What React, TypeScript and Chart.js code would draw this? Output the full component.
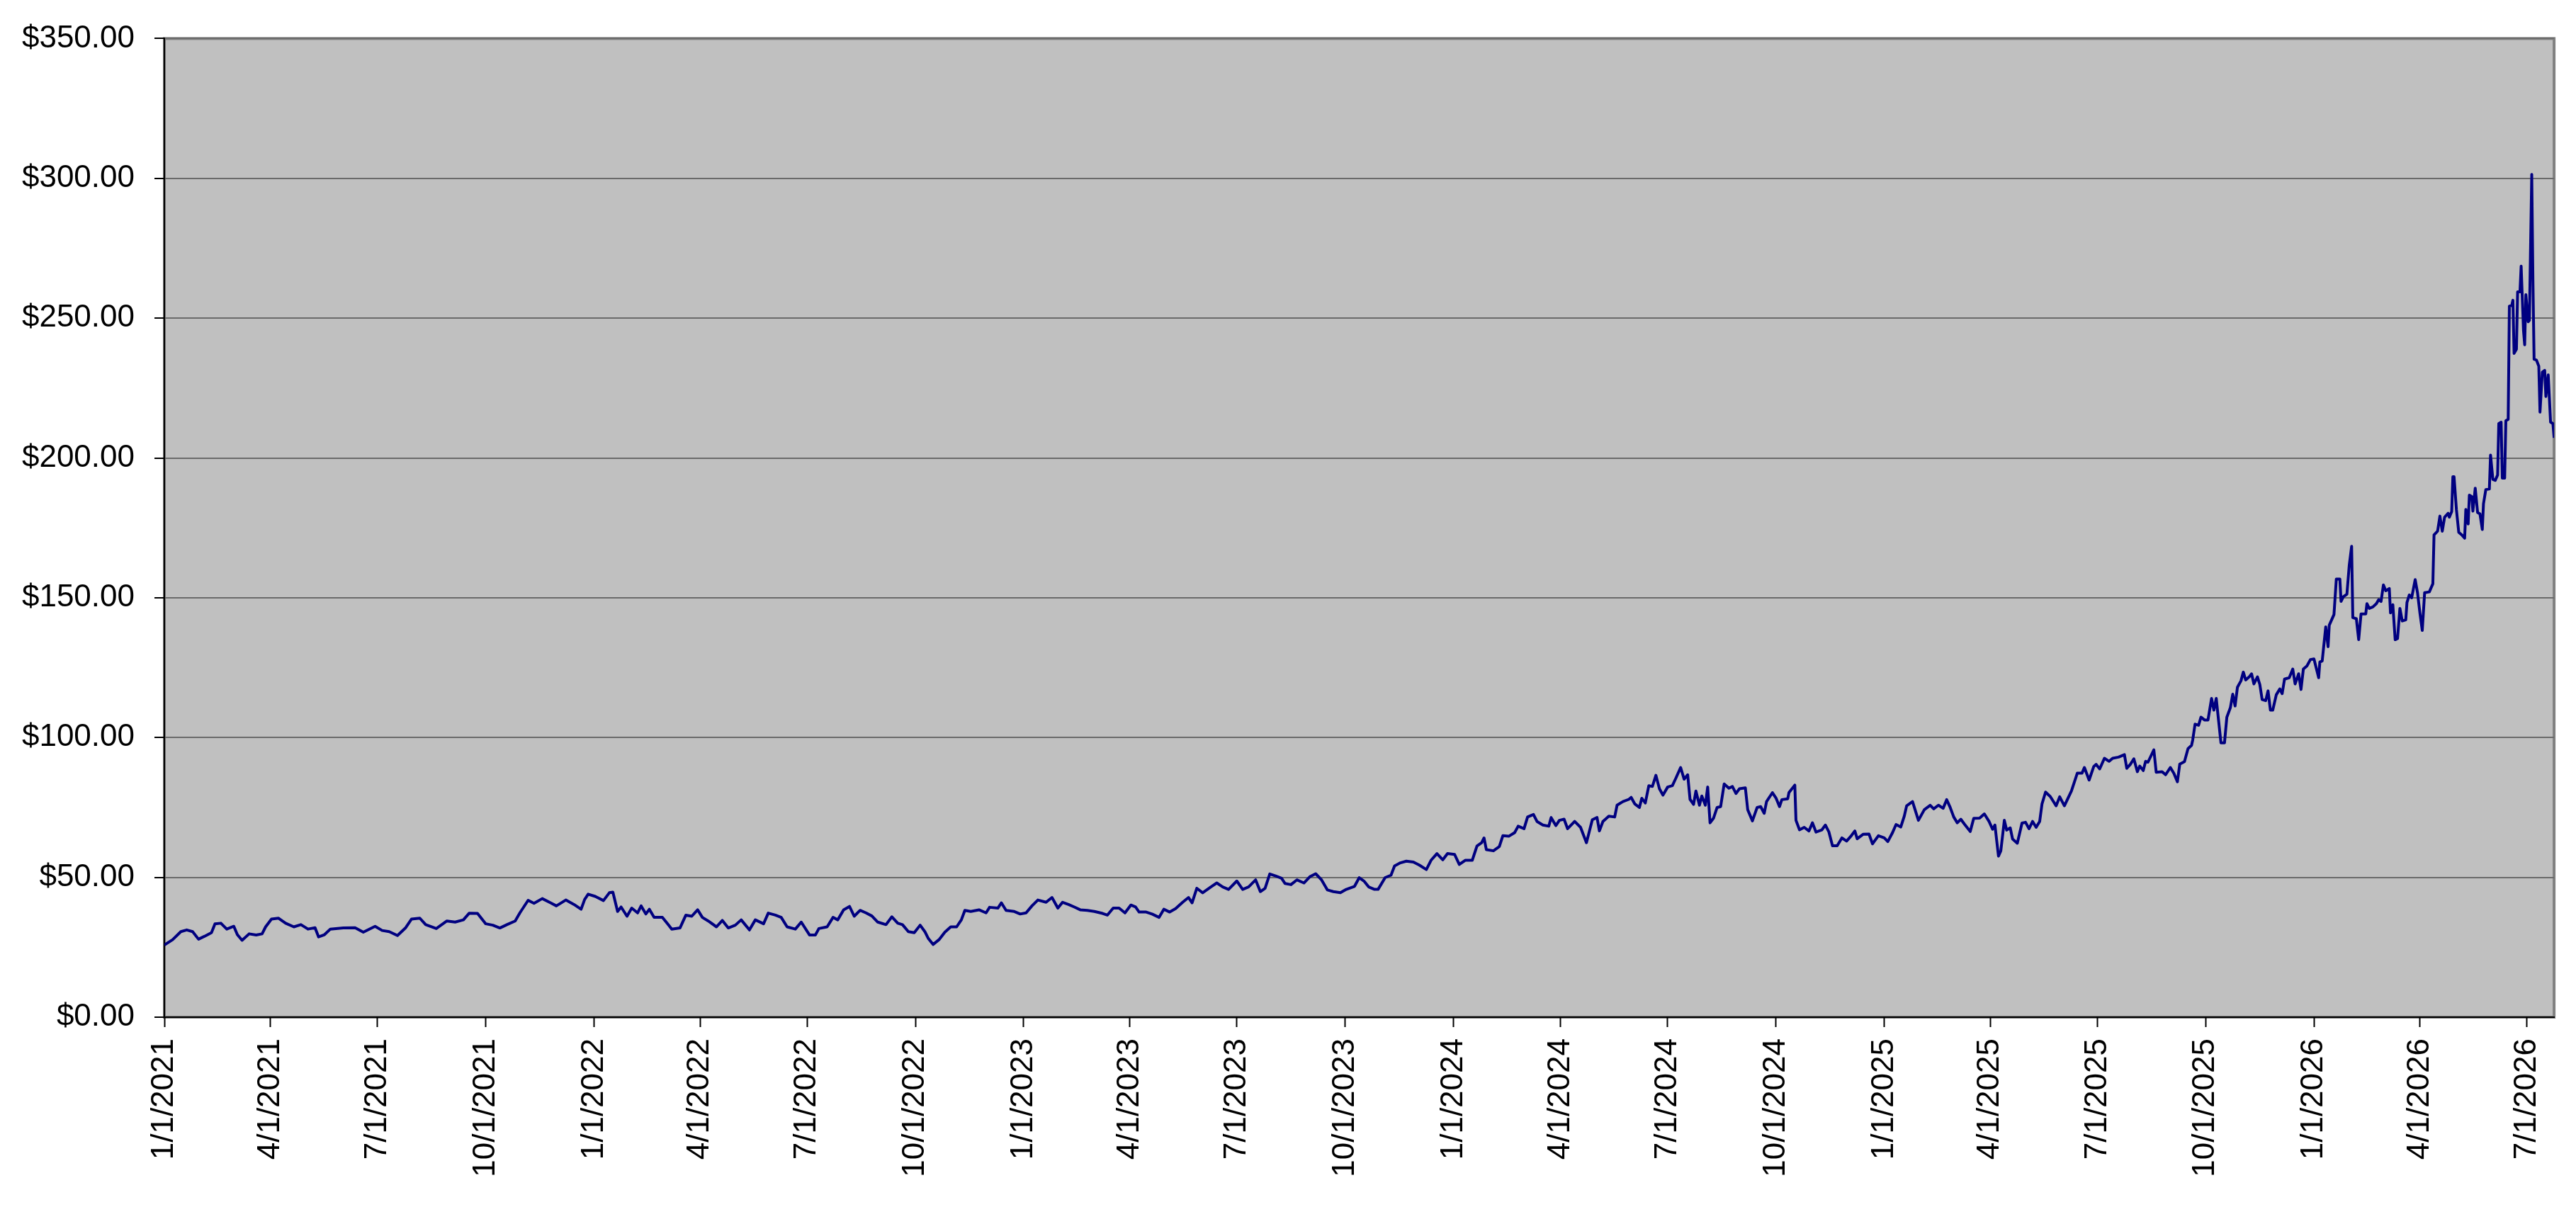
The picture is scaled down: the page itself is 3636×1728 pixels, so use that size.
import { useEffect, useRef } from "react";
import { Chart, registerables } from "chart.js";

Chart.register(...registerables);

// quarter tick labels on the date axis
const tickLabels = [
  "1/1/2021", "4/1/2021", "7/1/2021", "10/1/2021",
  "1/1/2022", "4/1/2022", "7/1/2022", "10/1/2022",
  "1/1/2023", "4/1/2023", "7/1/2023", "10/1/2023",
  "1/1/2024", "4/1/2024", "7/1/2024", "10/1/2024",
  "1/1/2025", "4/1/2025", "7/1/2025", "10/1/2025",
  "1/1/2026", "4/1/2026", "7/1/2026",
];

// days since 1/1/2021
const days = [
  0, 7, 14, 19, 24, 29, 34, 40, 43, 48,
  53, 59, 62, 66, 72, 78, 83, 86, 91, 97,
  103, 110, 116, 122, 128, 131, 136, 141, 152, 162,
  169, 179, 185, 191, 198, 205, 210, 217, 222, 231,
  240, 247, 254, 259, 266, 273, 279, 285, 291, 298,
  302, 309, 314, 321, 328, 333, 341, 348, 354, 357,
  360, 366, 373, 378, 381, 385, 388, 393, 397, 402,
  405, 409, 412, 416, 423, 428, 431, 438, 443, 448,
  453, 457, 462, 469, 474, 479, 485, 490, 497, 502,
  509, 513, 519, 524, 529, 536, 541, 548, 553, 556,
  563, 568, 572, 577, 582, 586, 591, 596, 601, 606,
  613, 618, 623, 627, 632, 637, 642, 646, 649, 653,
  658, 663, 668, 673, 677, 680, 685, 692, 698, 701,
  708, 711, 715, 722, 727, 732, 737, 742, 749, 754,
  759, 763, 768, 773, 778, 784, 790, 797, 801, 806,
  811, 816, 821, 825, 828, 834, 839, 845, 849, 854,
  859, 865, 870, 873, 877, 882, 889, 894, 899, 904,
  911, 916, 921, 927, 931, 935, 939, 944, 949, 952,
  957, 962, 968, 973, 978, 983, 988, 993, 999, 1004,
  1011, 1015, 1019, 1023, 1028, 1031, 1037, 1042, 1045, 1050,
  1055, 1061, 1066, 1072, 1076, 1081, 1086, 1090, 1096, 1100,
  1105, 1111, 1115, 1119, 1121, 1123, 1129, 1134, 1137, 1142,
  1147, 1150, 1155, 1158, 1163, 1166, 1171, 1176, 1178, 1182,
  1185, 1189, 1192, 1198, 1203, 1208, 1213, 1217, 1219, 1222,
  1227, 1232, 1234, 1239, 1244, 1246, 1249, 1253, 1255, 1258,
  1261, 1264, 1267, 1270, 1273, 1277, 1281, 1284, 1288, 1291,
  1294, 1296, 1299, 1301, 1304, 1306, 1309, 1311, 1313, 1316,
  1319, 1322, 1325, 1329, 1332, 1335, 1338, 1343, 1345, 1349,
  1353, 1356, 1359, 1361, 1366, 1369, 1372, 1374, 1379, 1380,
  1385, 1386, 1389, 1393, 1397, 1400, 1403, 1408, 1411, 1414,
  1417, 1421, 1425, 1429, 1433, 1436, 1438, 1443, 1448, 1451,
  1456, 1461, 1464, 1468, 1471, 1475, 1478, 1480, 1485, 1490,
  1495, 1500, 1503, 1507, 1511, 1514, 1517, 1520, 1523, 1526,
  1529, 1534, 1537, 1542, 1546, 1550, 1553, 1555, 1558, 1560,
  1563, 1565, 1568, 1570, 1574, 1578, 1581, 1584, 1587, 1590,
  1593, 1595, 1598, 1602, 1607, 1610, 1614, 1620, 1625, 1629,
  1631, 1635, 1639, 1641, 1644, 1648, 1652, 1655, 1660, 1665,
  1667, 1670, 1673, 1676, 1678, 1681, 1683, 1685, 1690, 1692,
  1697, 1700, 1704, 1707, 1710, 1712, 1716, 1719, 1722, 1723,
  1725, 1728, 1730, 1733, 1736, 1739, 1741, 1743, 1745, 1747,
  1750, 1752, 1755, 1757, 1759, 1761, 1764, 1766, 1768, 1771,
  1773, 1775, 1778, 1780, 1782, 1785, 1787, 1789, 1791, 1794,
  1797, 1799, 1801, 1805, 1808, 1810, 1813, 1815, 1817, 1820,
  1823, 1826, 1830, 1831, 1833, 1836, 1838, 1839, 1843, 1845,
  1848, 1849, 1851, 1854, 1856, 1858, 1859, 1862, 1864, 1866,
  1870, 1871, 1873, 1876, 1879, 1881, 1883, 1885, 1887, 1890,
  1891, 1893, 1895, 1897, 1899, 1901, 1904, 1905, 1907, 1909,
  1912, 1914, 1916, 1918, 1920, 1924, 1927, 1928, 1931, 1933,
  1935, 1937, 1940, 1941, 1943, 1944, 1945, 1947, 1949, 1952,
  1954, 1955, 1957, 1958, 1960, 1961, 1963, 1965, 1967, 1969,
  1970, 1972, 1975, 1976, 1978, 1980, 1982, 1983, 1985, 1986,
  1988, 1989, 1991, 1992, 1994, 1995, 1996, 1998, 1999, 2001,
  2002, 2004, 2005, 2006, 2008, 2009, 2011, 2012, 2013, 2015,
  2017, 2018, 2020, 2022, 2023, 2025, 2027, 2029, 2030,
];

const prices = [
  25.8, 27.7, 30.6, 31.2, 30.6, 27.9, 28.9, 30.2, 33.4, 33.6,
  31.5, 32.5, 29.5, 27.5, 29.8, 29.4, 29.8, 32.3, 35.1, 35.4,
  33.6, 32.3, 33.1, 31.5, 32.0, 28.7, 29.5, 31.5, 31.9, 32.0,
  30.4, 32.5, 31.0, 30.6, 29.2, 32.0, 35.1, 35.4, 33.1, 31.7,
  34.4, 34.0, 34.8, 37.2, 37.1, 33.4, 32.9, 31.9, 33.1, 34.4,
  37.3, 41.8, 40.7, 42.4, 40.9, 39.8, 41.9, 40.3, 38.6, 42.1,
  44.0, 43.2, 41.7, 44.5, 44.7, 37.8, 39.4, 36.1, 39.0, 37.3,
  39.8, 36.9, 38.6, 35.7, 35.7, 33.1, 31.5, 31.9, 36.5, 36.1,
  38.4, 35.7, 34.4, 32.3, 34.6, 31.9, 32.9, 34.8, 31.2, 34.8,
  33.4, 37.2, 36.5, 35.7, 32.3, 31.5, 34.0, 29.4, 29.4, 31.7,
  32.3, 35.7, 34.8, 38.4, 39.6, 36.1, 38.2, 37.3, 36.2, 34.0,
  33.1, 35.9, 33.6, 33.1, 30.6, 30.2, 32.9, 30.6, 28.1, 26.0,
  27.7, 30.4, 32.3, 32.3, 34.8, 38.2, 37.8, 38.4, 37.3, 39.3,
  39.0, 40.9, 38.2, 37.8, 36.9, 37.3, 39.8, 41.9, 41.1, 42.8,
  39.0, 41.1, 40.3, 39.4, 38.4, 38.2, 37.8, 37.1, 36.5, 39.0,
  39.0, 37.3, 40.1, 39.4, 37.6, 37.6, 36.9, 35.7, 38.6, 37.6,
  38.8, 41.1, 42.8, 40.9, 46.1, 44.5, 46.6, 48.0, 46.6, 45.7,
  48.7, 45.7, 46.6, 49.1, 44.9, 46.1, 51.2, 50.5, 49.7, 47.8,
  47.4, 49.1, 48.0, 50.2, 51.3, 49.1, 45.5, 44.9, 44.5, 45.7,
  46.8, 49.9, 48.7, 46.6, 45.7, 45.7, 49.9, 50.8, 54.1, 55.2,
  55.8, 55.5, 54.4, 52.8, 56.1, 58.5, 56.3, 58.5, 58.2, 54.6,
  56.1, 56.1, 61.2, 62.4, 64.1, 59.9, 59.5, 61.0, 64.9, 64.7,
  66.0, 68.3, 67.4, 71.6, 72.5, 70.0, 68.7, 68.3, 71.4, 68.5,
  70.4, 70.8, 67.4, 70.0, 67.9, 62.4, 70.6, 71.4, 66.6, 70.0,
  71.9, 71.6, 75.8, 77.1, 77.9, 78.6, 76.3, 75.0, 78.3, 76.6,
  82.8, 82.5, 86.5, 81.7, 79.4, 82.3, 82.8, 85.5, 89.3, 85.1,
  86.7, 77.9, 76.1, 80.9, 75.8, 79.1, 75.8, 82.3, 69.5, 71.2,
  75.0, 75.3, 83.4, 81.9, 82.5, 80.0, 81.7, 82.0, 74.2, 70.2,
  75.0, 75.3, 72.9, 77.1, 80.3, 78.4, 75.3, 77.8, 78.1, 80.3,
  83.0, 70.4, 67.0, 67.9, 66.6, 69.5, 66.2, 67.0, 68.7, 66.2,
  61.3, 61.3, 64.1, 63.0, 64.9, 66.6, 63.8, 65.4, 65.5, 62.0,
  64.9, 64.1, 62.8, 66.0, 68.9, 68.0, 71.9, 75.6, 77.1, 70.4,
  74.2, 75.8, 74.5, 75.8, 74.7, 77.8, 75.0, 71.6, 69.5, 70.8,
  69.1, 66.4, 71.1, 71.2, 72.7, 70.0, 67.2, 68.7, 57.6, 59.5,
  70.4, 66.9, 67.7, 63.7, 62.2, 69.4, 69.7, 67.4, 70.0, 67.9,
  70.0, 76.3, 80.5, 78.9, 75.6, 78.8, 75.6, 80.9, 87.3, 87.3,
  89.3, 84.8, 89.7, 90.4, 88.8, 92.6, 91.5, 92.6, 93.0, 93.9,
  89.0, 90.4, 92.4, 87.8, 89.8, 88.2, 91.5, 91.2, 95.6, 87.6,
  87.8, 86.7, 89.3, 87.2, 84.2, 90.5, 91.4, 96.0, 97.2, 99.1,
  104.8, 104.4, 107.3, 106.3, 106.3, 114.0, 109.8, 114.0, 106.0, 98.1,
  98.1, 107.3, 110.7, 115.5, 111.3, 118.0, 120.3, 123.4, 120.6, 121.7,
  122.8, 119.2, 121.7, 119.0, 113.6, 113.2, 116.7, 109.8, 109.8, 115.3,
  117.4, 115.7, 120.9, 121.4, 124.5, 119.2, 122.8, 117.2, 124.5, 125.6,
  127.9, 128.1, 121.4, 127.0, 127.4, 139.6, 132.5, 140.2, 144.0, 156.7,
  156.7, 148.7, 150.4, 151.3, 161.7, 168.4, 142.9, 142.5, 135.0, 144.2,
  144.2, 147.9, 146.2, 146.7, 147.9, 149.3, 148.7, 154.6, 152.5, 153.3,
  144.6, 147.5, 135.0, 135.4, 146.2, 141.7, 142.1, 148.3, 151.0, 150.0,
  156.5, 151.7, 144.6, 138.3, 151.8, 152.1, 155.0, 172.5, 173.8, 179.2,
  173.8, 178.8, 180.2, 178.8, 180.8, 193.3, 193.3, 181.6, 173.4, 172.3,
  171.3, 181.6, 176.4, 186.7, 186.2, 181.0, 189.2, 180.5, 180.0, 174.4,
  183.6, 188.7, 188.9, 201.0, 192.3, 192.0, 193.9, 212.3, 212.8, 192.8,
  192.8, 213.3, 213.8, 254.3, 254.5, 256.4, 237.4, 238.9, 259.4, 259.4,
  268.6, 245.6, 240.5, 258.4, 248.7, 249.2, 301.4, 263.5, 235.3, 235.0,
  232.8, 216.4, 230.7, 231.3, 222.0, 229.7, 212.8, 212.3, 207.2,
];

const START = Date.UTC(2021, 0, 1);
const toDay = (label: string) => {
  const [m, d, y] = label.split("/").map(Number);
  return Math.round((Date.UTC(y, m - 1, d) - START) / 86400000);
};
const tickDays = tickLabels.map(toDay);

const FONT = "'Liberation Sans', Arial, sans-serif";

const plotBackground = {
  id: "plotBackground",
  beforeDraw(chart: Chart) {
    const { ctx, chartArea: a } = chart;
    ctx.save();
    ctx.fillStyle = "#c0c0c0";
    ctx.fillRect(a.left, a.top, a.right - a.left, a.bottom - a.top);
    ctx.strokeStyle = "#808080";
    ctx.lineWidth = 4;
    ctx.strokeRect(a.left, a.top, a.right - a.left, a.bottom - a.top);
    ctx.restore();
  },
};

export default function App() {
  const canvasRef = useRef<HTMLCanvasElement>(null);
  const chartRef = useRef<Chart | null>(null);

  useEffect(() => {
    if (!canvasRef.current) return;
    if (chartRef.current) chartRef.current.destroy();

    const n = Math.min(days.length, prices.length);
    const points = [];
    for (let i = 0; i < n; i++) points.push({ x: days[i], y: prices[i] });

    chartRef.current = new Chart(canvasRef.current, {
      type: "line",
      data: {
        datasets: [
          {
            data: points,
            borderColor: "#000080",
            borderWidth: 4,
            pointRadius: 0,
            tension: 0,
            borderJoinStyle: "round",
            fill: false,
          },
        ],
      },
      options: {
        animation: false,
        responsive: true,
        maintainAspectRatio: false,
        layout: { padding: { top: 44, right: 28, left: 0, bottom: 0 }, autoPadding: false },
        plugins: { legend: { display: false }, tooltip: { enabled: false } },
        scales: {
          x: {
            type: "linear",
            min: 0,
            max: days[n - 1],
            afterBuildTicks: (scale: any) => {
              scale.ticks = tickDays.map((v) => ({ value: v }));
            },
            afterFit: (scale: any) => {
              scale.height = 292;
            },
            grid: {
              drawOnChartArea: false,
              drawTicks: true,
              tickLength: 14,
              tickColor: "#000",
              tickWidth: 2,
            },
            border: { color: "#000", width: 2 },
            ticks: {
              autoSkip: false,
              minRotation: 90,
              maxRotation: 90,
              padding: 16,
              color: "#000",
              font: { family: FONT, size: 44 },
              callback: (v: any) => tickLabels[tickDays.indexOf(Number(v))] ?? "",
            },
          },
          y: {
            min: 0,
            max: 350,
            afterFit: (scale: any) => {
              scale.width = 232;
            },
            grid: {
              color: "#6a6a6a",
              lineWidth: 2,
              tickLength: 14,
              tickColor: "#000",
              tickWidth: 2,
            },
            border: { color: "#000", width: 2 },
            ticks: {
              stepSize: 50,
              padding: 28,
              color: "#000",
              font: { family: FONT, size: 44 },
              callback: (v: any) => "$" + Number(v).toFixed(2),
            },
          },
        },
      },
      plugins: [plotBackground],
    });

    return () => {
      if (chartRef.current) {
        chartRef.current.destroy();
        chartRef.current = null;
      }
    };
  }, []);

  return (
    <div style={{ position: "absolute", left: 0, top: 0, width: "3636px", height: "1728px", background: "#fff" }}>
      <canvas ref={canvasRef}></canvas>
    </div>
  );
}
